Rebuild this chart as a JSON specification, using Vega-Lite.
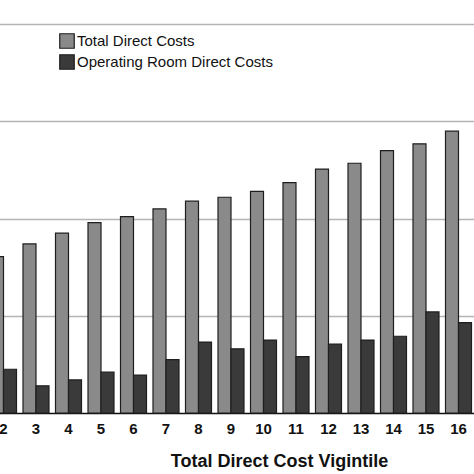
{
  "$schema": "https://vega.github.io/schema/vega-lite/v6.json",
  "autosize": "none",
  "width": 474,
  "height": 413,
  "padding": {"left": 0, "top": 0, "right": 0, "bottom": 61},
  "background": "white",
  "data": {
    "values": [
      {"vigintile": 2, "series": "Total Direct Costs", "cost": 16.1},
      {"vigintile": 3, "series": "Total Direct Costs", "cost": 17.4},
      {"vigintile": 4, "series": "Total Direct Costs", "cost": 18.5},
      {"vigintile": 5, "series": "Total Direct Costs", "cost": 19.6},
      {"vigintile": 6, "series": "Total Direct Costs", "cost": 20.2},
      {"vigintile": 7, "series": "Total Direct Costs", "cost": 21.0},
      {"vigintile": 8, "series": "Total Direct Costs", "cost": 21.8},
      {"vigintile": 9, "series": "Total Direct Costs", "cost": 22.2},
      {"vigintile": 10, "series": "Total Direct Costs", "cost": 22.8},
      {"vigintile": 11, "series": "Total Direct Costs", "cost": 23.7},
      {"vigintile": 12, "series": "Total Direct Costs", "cost": 25.1},
      {"vigintile": 13, "series": "Total Direct Costs", "cost": 25.7},
      {"vigintile": 14, "series": "Total Direct Costs", "cost": 27.0},
      {"vigintile": 15, "series": "Total Direct Costs", "cost": 27.7},
      {"vigintile": 16, "series": "Total Direct Costs", "cost": 29.0},
      {"vigintile": 2, "series": "Operating Room Direct Costs", "cost": 4.5},
      {"vigintile": 3, "series": "Operating Room Direct Costs", "cost": 2.8},
      {"vigintile": 4, "series": "Operating Room Direct Costs", "cost": 3.4},
      {"vigintile": 5, "series": "Operating Room Direct Costs", "cost": 4.2},
      {"vigintile": 6, "series": "Operating Room Direct Costs", "cost": 3.9},
      {"vigintile": 7, "series": "Operating Room Direct Costs", "cost": 5.5},
      {"vigintile": 8, "series": "Operating Room Direct Costs", "cost": 7.3},
      {"vigintile": 9, "series": "Operating Room Direct Costs", "cost": 6.6},
      {"vigintile": 10, "series": "Operating Room Direct Costs", "cost": 7.5},
      {"vigintile": 11, "series": "Operating Room Direct Costs", "cost": 5.8},
      {"vigintile": 12, "series": "Operating Room Direct Costs", "cost": 7.1},
      {"vigintile": 13, "series": "Operating Room Direct Costs", "cost": 7.5},
      {"vigintile": 14, "series": "Operating Room Direct Costs", "cost": 7.9},
      {"vigintile": 15, "series": "Operating Room Direct Costs", "cost": 10.4},
      {"vigintile": 16, "series": "Operating Room Direct Costs", "cost": 9.3}
    ]
  },
  "mark": {"type": "bar", "stroke": "#1e1e1e", "strokeWidth": 1.2},
  "encoding": {
    "x": {
      "field": "vigintile",
      "type": "ordinal",
      "title": "Total Direct Cost Vigintile",
      "scale": {"range": [-12.75, 474.75], "paddingInner": 0.2, "paddingOuter": 0.1},
      "axis": {
        "labelAngle": 0,
        "labelFont": "Liberation Sans",
        "labelFontSize": 15,
        "labelFontWeight": "bold",
        "labelColor": "#111",
        "labelPadding": 8,
        "ticks": false,
        "domainColor": "#111",
        "domainWidth": 1.5,
        "titleFont": "Liberation Sans",
        "titleFontSize": 18,
        "titleFontWeight": "bold",
        "titleColor": "#111",
        "titleX": 279,
        "titleY": 53,
        "titleAlign": "center",
        "titleBaseline": "alphabetic"
      }
    },
    "xOffset": {
      "field": "series",
      "type": "nominal",
      "scale": {"domain": ["Total Direct Costs", "Operating Room Direct Costs"], "paddingInner": 0, "paddingOuter": 0}
    },
    "y": {
      "field": "cost",
      "type": "quantitative",
      "title": null,
      "scale": {"domain": [0, 42.5], "nice": false},
      "axis": {
        "values": [10, 20, 30, 40],
        "labels": false,
        "ticks": false,
        "domain": false,
        "gridColor": "#b4b4b4",
        "gridWidth": 1.5,
        "gridOpacity": 1
      }
    },
    "color": {
      "field": "series",
      "type": "nominal",
      "scale": {
        "domain": ["Total Direct Costs", "Operating Room Direct Costs"],
        "range": ["#8a8a8a", "#3a3a3a"]
      },
      "legend": {
        "title": null,
        "orient": "none",
        "legendX": 59,
        "legendY": 33,
        "symbolType": "square",
        "symbolSize": 210,
        "symbolStrokeColor": "#1e1e1e",
        "symbolStrokeWidth": 1.2,
        "symbolOpacity": 1,
        "labelFont": "Liberation Sans",
        "labelFontSize": 15,
        "labelColor": "#111",
        "labelOffset": 2,
        "labelLimit": 400,
        "rowPadding": 1,
        "padding": 0
      }
    }
  },
  "config": {
    "view": {"stroke": null},
    "axisX": {"grid": false}
  }
}
